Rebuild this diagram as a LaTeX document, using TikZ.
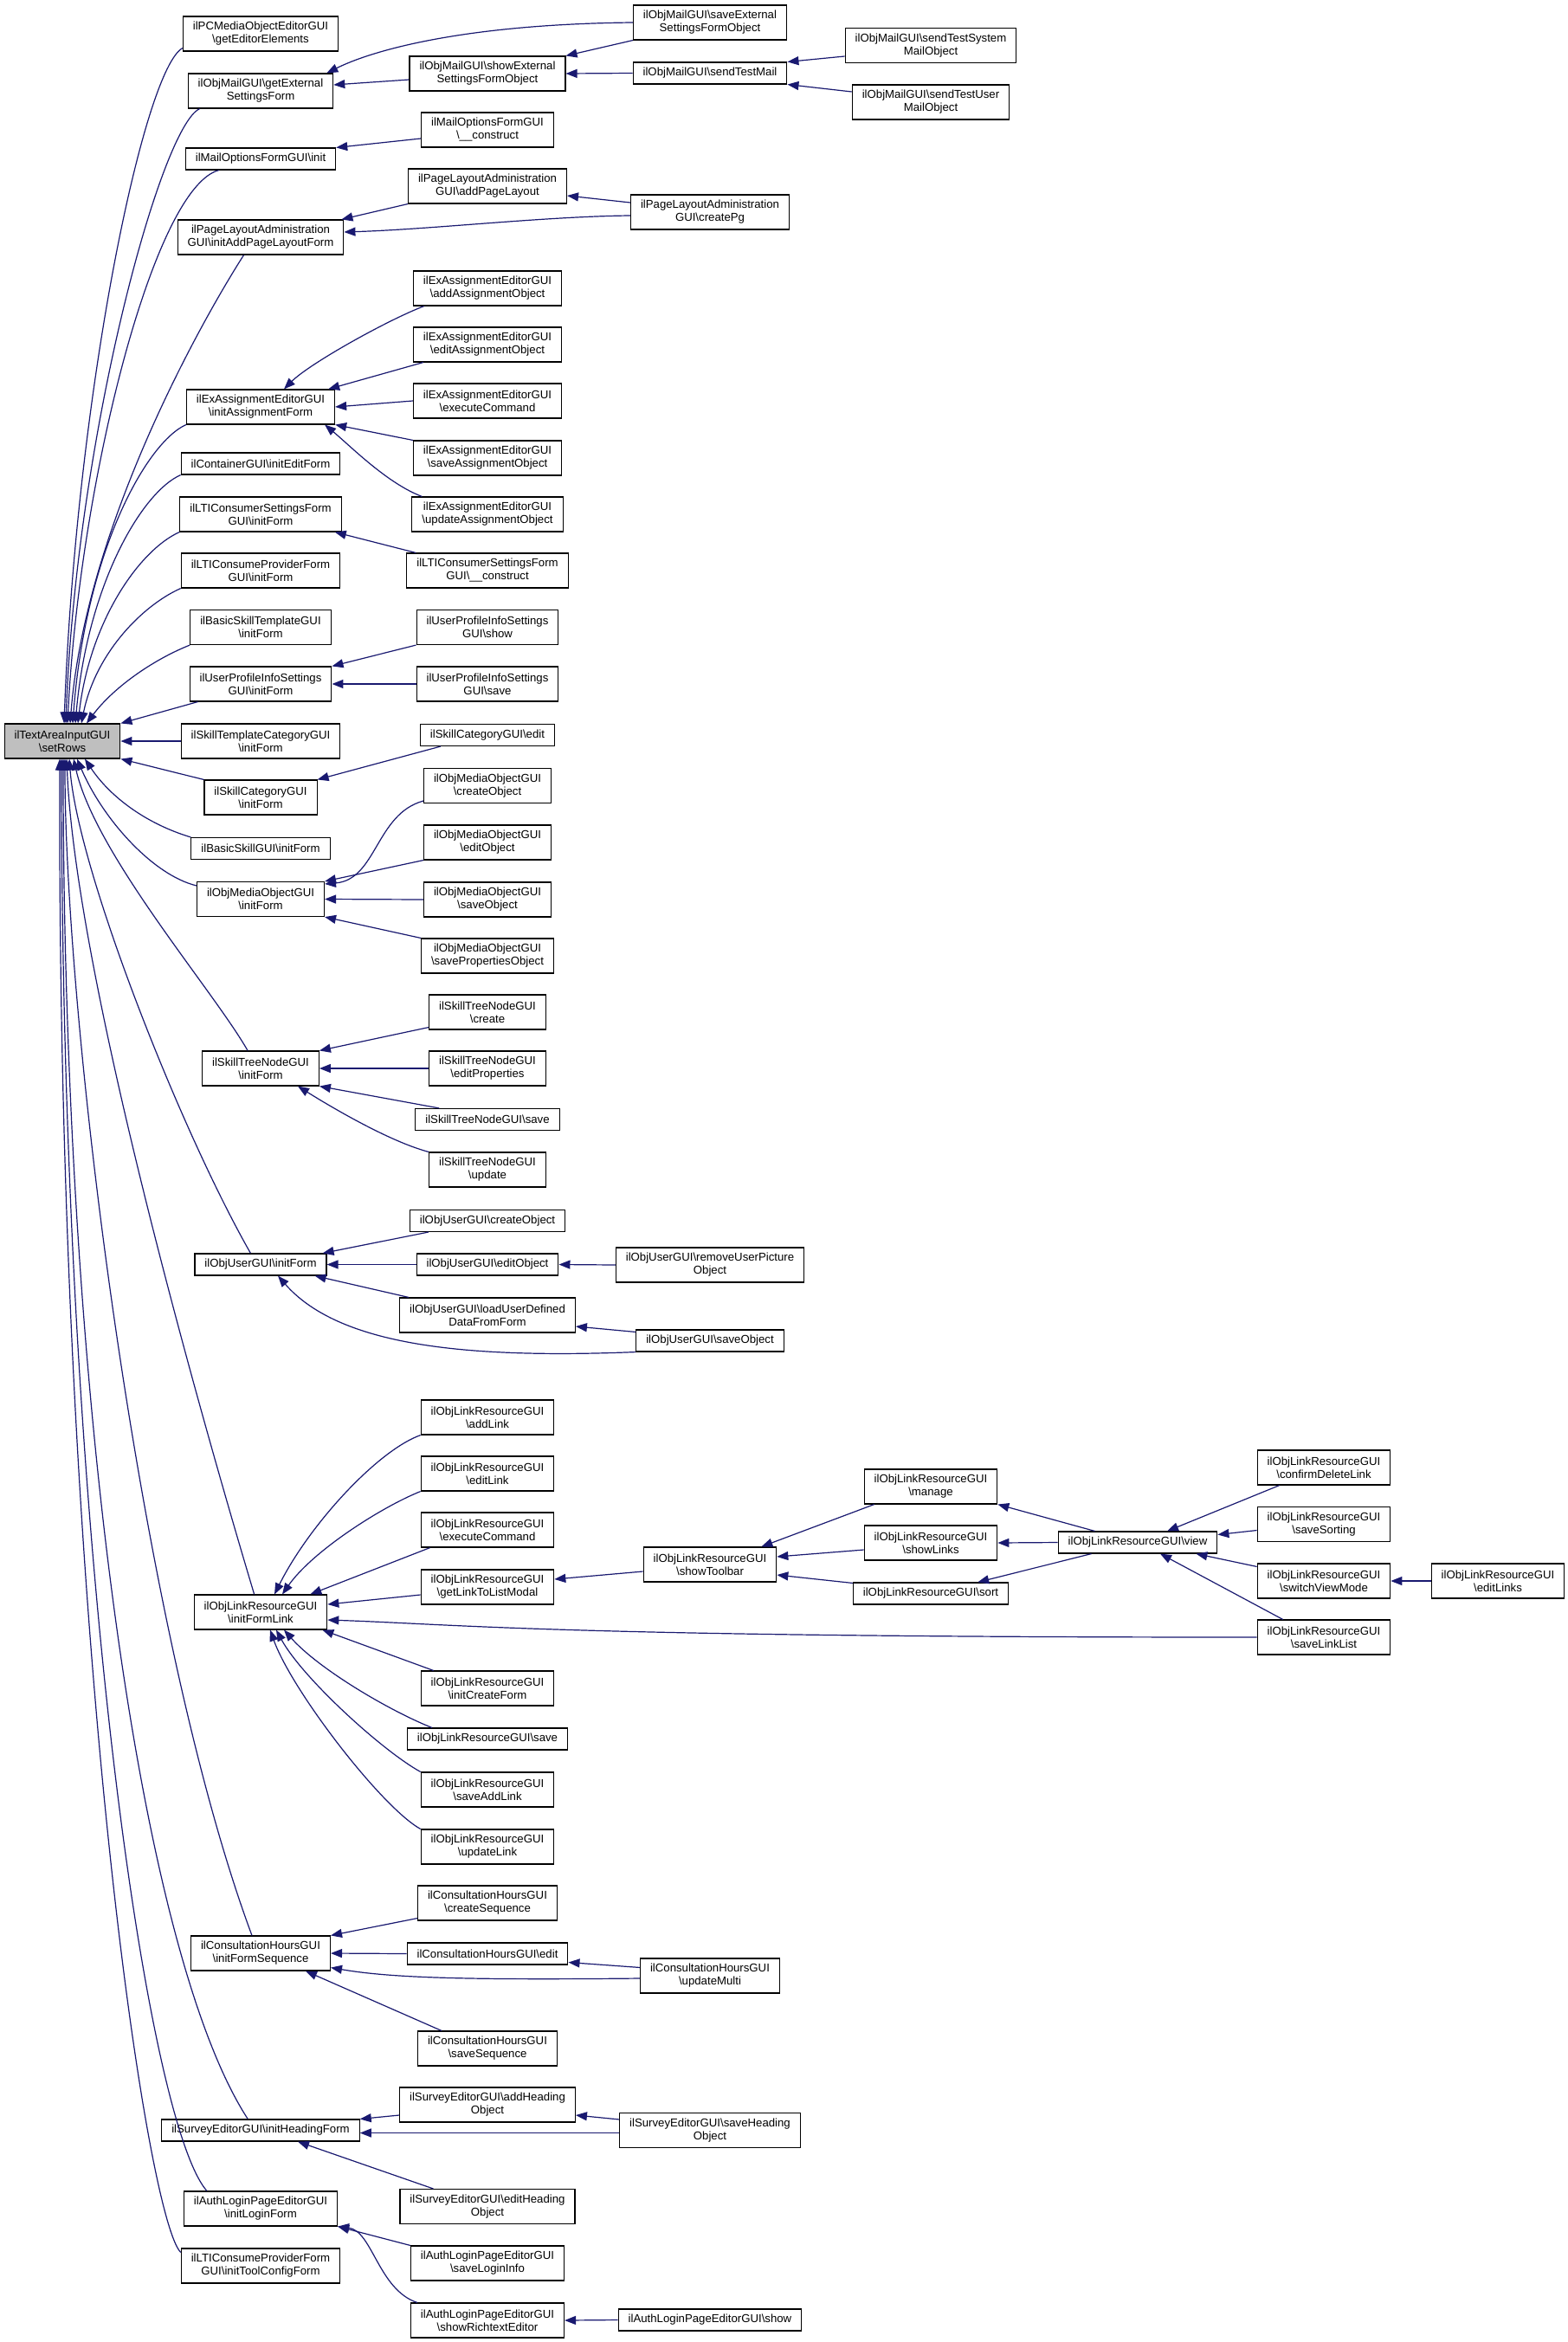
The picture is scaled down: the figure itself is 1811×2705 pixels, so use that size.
\documentclass[tikz,border=0pt]{standalone}
\usepackage{fontspec}
\setmainfont{Liberation Sans}
\usetikzlibrary{arrows.meta,calc}
\definecolor{edgeblue}{HTML}{191970}
\definecolor{rootgray}{HTML}{BFBFBF}
\newcommand{\bkx}{\textbackslash}
\tikzset{
  fn/.style={draw=black, line width=1.1pt, fill=white, font=\fontsize{13.2}{15}\selectfont,
    align=center, inner xsep=11.5pt, inner ysep=0pt, minimum height=25pt},
  fn2/.style={fn, minimum height=40pt},
  rootnode/.style={fn2, fill=rootgray},
  ce/.style={draw=edgeblue, line width=1.2pt, -{Triangle[length=13pt,width=10pt]}}
}
\begin{document}
\begin{tikzpicture}[x=1pt,y=-1pt]
\fill[white] (0,0) rectangle (1811,2705);
\useasboundingbox (0,0) rectangle (1811,2705);
% column 1
\node[rootnode] (root) at (72,856) {ilTextAreaInputGUI\\\bkx setRows};
% column 2
\node[fn2] (n1) at (301,39) {ilPCMediaObjectEditorGUI\\\bkx getEditorElements};
\node[fn2] (n2) at (301,105) {ilObjMailGUI\bkx getExternal\\SettingsForm};
\node[fn] (n3) at (301,183.5) {ilMailOptionsFormGUI\bkx init};
\node[fn2] (n4) at (301,274) {ilPageLayoutAdministration\\GUI\bkx initAddPageLayoutForm};
\node[fn2] (n5) at (301,470) {ilExAssignmentEditorGUI\\\bkx initAssignmentForm};
\node[fn] (n6) at (301,535.5) {ilContainerGUI\bkx initEditForm};
\node[fn2] (n7) at (301,594) {ilLTIConsumerSettingsForm\\GUI\bkx initForm};
\node[fn2] (n8) at (301,659) {ilLTIConsumeProviderForm\\GUI\bkx initForm};
\node[fn2] (n9) at (301,724.5) {ilBasicSkillTemplateGUI\\\bkx initForm};
\node[fn2] (n10) at (301,790) {ilUserProfileInfoSettings\\GUI\bkx initForm};
\node[fn2] (n11) at (301,856) {ilSkillTemplateCategoryGUI\\\bkx initForm};
\node[fn2] (n12) at (301,921) {ilSkillCategoryGUI\\\bkx initForm};
\node[fn] (n13) at (301,980) {ilBasicSkillGUI\bkx initForm};
\node[fn2] (n14) at (301,1038.5) {ilObjMediaObjectGUI\\\bkx initForm};
\node[fn2] (n15) at (301,1234) {ilSkillTreeNodeGUI\\\bkx initForm};
\node[fn] (n16) at (301,1460.5) {ilObjUserGUI\bkx initForm};
\node[fn2] (n17) at (301,1862) {ilObjLinkResourceGUI\\\bkx initFormLink};
\node[fn2] (n18) at (301,2256) {ilConsultationHoursGUI\\\bkx initFormSequence};
\node[fn] (n19) at (301,2460.5) {ilSurveyEditorGUI\bkx initHeadingForm};
\node[fn2] (n20) at (301,2551) {ilAuthLoginPageEditorGUI\\\bkx initLoginForm};
\node[fn2] (n21) at (301,2617) {ilLTIConsumeProviderForm\\GUI\bkx initToolConfigForm};
% column 3
\node[fn2] (m1) at (563,85) {ilObjMailGUI\bkx showExternal\\SettingsFormObject};
\node[fn2] (m2) at (563,150) {ilMailOptionsFormGUI\\\bkx\_\_construct};
\node[fn2] (m3) at (563,215) {ilPageLayoutAdministration\\GUI\bkx addPageLayout};
\node[fn2] (m4) at (563,333) {ilExAssignmentEditorGUI\\\bkx addAssignmentObject};
\node[fn2] (m5) at (563,398) {ilExAssignmentEditorGUI\\\bkx editAssignmentObject};
\node[fn2] (m6) at (563,463) {ilExAssignmentEditorGUI\\\bkx executeCommand};
\node[fn2] (m7) at (563,529) {ilExAssignmentEditorGUI\\\bkx saveAssignmentObject};
\node[fn2] (m8) at (563,594) {ilExAssignmentEditorGUI\\\bkx updateAssignmentObject};
\node[fn2] (m9) at (563,659) {ilLTIConsumerSettingsForm\\GUI\bkx\_\_construct};
\node[fn2] (m10) at (563,724.5) {ilUserProfileInfoSettings\\GUI\bkx show};
\node[fn2] (m11) at (563,790) {ilUserProfileInfoSettings\\GUI\bkx save};
\node[fn] (m12) at (563,849) {ilSkillCategoryGUI\bkx edit};
\node[fn2] (m13) at (563,907.5) {ilObjMediaObjectGUI\\\bkx createObject};
\node[fn2] (m14) at (563,973) {ilObjMediaObjectGUI\\\bkx editObject};
\node[fn2] (m15) at (563,1039) {ilObjMediaObjectGUI\\\bkx saveObject};
\node[fn2] (m16) at (563,1104) {ilObjMediaObjectGUI\\\bkx savePropertiesObject};
\node[fn2] (m17) at (563,1169) {ilSkillTreeNodeGUI\\\bkx create};
\node[fn2] (m18) at (563,1234) {ilSkillTreeNodeGUI\\\bkx editProperties};
\node[fn] (m19) at (563,1293) {ilSkillTreeNodeGUI\bkx save};
\node[fn2] (m20) at (563,1351) {ilSkillTreeNodeGUI\\\bkx update};
\node[fn] (m21) at (563,1410) {ilObjUserGUI\bkx createObject};
\node[fn] (m22) at (563,1460.5) {ilObjUserGUI\bkx editObject};
\node[fn2] (m23) at (563,1519) {ilObjUserGUI\bkx loadUserDefined\\DataFromForm};
\node[fn2] (m24) at (563,1637) {ilObjLinkResourceGUI\\\bkx addLink};
\node[fn2] (m25) at (563,1702) {ilObjLinkResourceGUI\\\bkx editLink};
\node[fn2] (m26) at (563,1767) {ilObjLinkResourceGUI\\\bkx executeCommand};
\node[fn2] (m27) at (563,1833) {ilObjLinkResourceGUI\\\bkx getLinkToListModal};
\node[fn2] (m28) at (563,1950) {ilObjLinkResourceGUI\\\bkx initCreateForm};
\node[fn] (m29) at (563,2008.5) {ilObjLinkResourceGUI\bkx save};
\node[fn2] (m30) at (563,2067) {ilObjLinkResourceGUI\\\bkx saveAddLink};
\node[fn2] (m31) at (563,2133) {ilObjLinkResourceGUI\\\bkx updateLink};
\node[fn2] (m32) at (563,2198) {ilConsultationHoursGUI\\\bkx createSequence};
\node[fn] (m33) at (563,2256.5) {ilConsultationHoursGUI\bkx edit};
\node[fn2] (m34) at (563,2366) {ilConsultationHoursGUI\\\bkx saveSequence};
\node[fn2] (m35) at (563,2431) {ilSurveyEditorGUI\bkx addHeading\\Object};
\node[fn2] (m36) at (563,2548.5) {ilSurveyEditorGUI\bkx editHeading\\Object};
\node[fn2] (m37) at (563,2614) {ilAuthLoginPageEditorGUI\\\bkx saveLoginInfo};
\node[fn2] (m38) at (563,2680) {ilAuthLoginPageEditorGUI\\\bkx showRichtextEditor};
% column 4
\node[fn2] (p1) at (820,26) {ilObjMailGUI\bkx saveExternal\\SettingsFormObject};
\node[fn] (p2) at (820,84.5) {ilObjMailGUI\bkx sendTestMail};
\node[fn2] (p3) at (820,245) {ilPageLayoutAdministration\\GUI\bkx createPg};
\node[fn2] (p4) at (820,1461) {ilObjUserGUI\bkx removeUserPicture\\Object};
\node[fn] (p5) at (820,1548.5) {ilObjUserGUI\bkx saveObject};
\node[fn2] (p6) at (820,1807) {ilObjLinkResourceGUI\\\bkx showToolbar};
\node[fn2] (p7) at (820,2282) {ilConsultationHoursGUI\\\bkx updateMulti};
\node[fn2] (p8) at (820,2460.5) {ilSurveyEditorGUI\bkx saveHeading\\Object};
\node[fn] (p9) at (820,2679.5) {ilAuthLoginPageEditorGUI\bkx show};
% column 5
\node[fn2] (q1) at (1075,52.5) {ilObjMailGUI\bkx sendTestSystem\\MailObject};
\node[fn2] (q2) at (1075,118) {ilObjMailGUI\bkx sendTestUser\\MailObject};
\node[fn2] (q3) at (1075,1717) {ilObjLinkResourceGUI\\\bkx manage};
\node[fn2] (q4) at (1075,1782) {ilObjLinkResourceGUI\\\bkx showLinks};
\node[fn] (q5) at (1075,1840.5) {ilObjLinkResourceGUI\bkx sort};
% column 6-8
\node[fn] (r1) at (1314,1781.5) {ilObjLinkResourceGUI\bkx view};
\node[fn2] (s1) at (1529,1695) {ilObjLinkResourceGUI\\\bkx confirmDeleteLink};
\node[fn2] (s2) at (1529,1760.5) {ilObjLinkResourceGUI\\\bkx saveSorting};
\node[fn2] (s3) at (1529,1826) {ilObjLinkResourceGUI\\\bkx switchViewMode};
\node[fn2] (s4) at (1529,1891) {ilObjLinkResourceGUI\\\bkx saveLinkList};
\node[fn2] (t1) at (1730,1826) {ilObjLinkResourceGUI\\\bkx editLinks};

% ---- edges into root (top group)
\draw[ce] ($(n1.south west)+(0,-4)$) .. controls +(-45,25) and +(14,-380) .. ($(root.north)+(2,0)$);
\draw[ce] ($(n2.south west)+(14,0)$) .. controls +(-45,20) and +(12,-330) .. ($(root.north)+(4,0)$);
\draw[ce] ($(n3.south west)+(39,0)$) .. controls +(-75,20) and +(14,-280) .. ($(root.north)+(6,0)$);
\draw[ce] ($(n4.south west)+(77,0)$) .. controls +(-45,70) and +(18,-230) .. ($(root.north)+(9,0)$);
\draw[ce] (n5.south west) .. controls +(-45,20) and +(15,-200) .. ($(root.north)+(12,0)$);
\draw[ce] (n6.south west) .. controls +(-45,20) and +(14,-160) .. ($(root.north)+(15,0)$);
\draw[ce] (n7.south west) .. controls +(-45,20) and +(14,-120) .. ($(root.north)+(18,0)$);
\draw[ce] (n8.south west) .. controls +(-45,20) and +(16,-80) .. ($(root.north)+(22,0)$);
\draw[ce] (n9.south west) .. controls +(-45,18) and +(30,-40) .. ($(root.north)+(28,0)$);
% right group
\draw[ce] ($(n10.south west)+(10,0)$) -- (root.north east);
\draw[ce] (n11.west) -- (root.east);
\draw[ce] (n12.north west) -- (root.south east);
% bottom group
\draw[ce] (n13.north west) .. controls +(-50,-15) and +(30,45) .. ($(root.south)+(26,0)$);
\draw[ce] ($(n14.north west)+(0,5)$) .. controls +(-50,-12) and +(30,70) .. ($(root.south)+(17,0)$);
\draw[ce] ($(n15.north west)+(53,0)$) .. controls +(-40,-70) and +(25,110) .. ($(root.south)+(13,0)$);
\draw[ce] ($(n16.north west)+(65,0)$) .. controls +(-80,-140) and +(10,130) .. ($(root.south)+(8,0)$);
\draw[ce] ($(n17.north west)+(70,0)$) .. controls +(-60,-200) and +(10,250) .. ($(root.south)+(5,0)$);
\draw[ce] ($(n18.north west)+(71,0)$) .. controls +(-130,-350) and +(0,300) .. ($(root.south)+(3,0)$);
\draw[ce] ($(n19.north west)+(100,0)$) .. controls +(-130,-200) and +(0,700) .. ($(root.south)+(1,0)$);
\draw[ce] ($(n20.north west)+(27,0)$) .. controls +(-70,-80) and +(0,900) .. ($(root.south)+(-1,0)$);
\draw[ce] ($(n21.north west)+(0,5)$) .. controls +(-40,-40) and +(-3,1000) .. ($(root.south)+(-3,0)$);

% ---- mail
\draw[ce] ($(m1.west)+(0,7)$) -- ($(n2.east)+(0,-7)$);
\draw[ce] (p1.west) .. controls +(-200,2) and +(50,-25) .. ($(n2.north east)+(-8,0)$);
\draw[ce] (p1.south west) -- (m1.north east);
\draw[ce] (p2.west) -- (m1.east);
\draw[ce] ($(q1.west)+(0,12.5)$) -- (p2.north east);
\draw[ce] ($(q2.west)+(0,-12)$) -- (p2.south east);
\draw[ce] ($(m2.west)+(0,10)$) -- (n3.north east);
% ---- page layout
\draw[ce] (m3.south west) -- ($(n4.north east)+(-3,0)$);
\draw[ce] ($(p3.west)+(0,4)$) .. controls +(-100,1) and +(100,-3) .. ($(n4.east)+(0,-6)$);
\draw[ce] ($(p3.west)+(0,-11)$) -- ($(m3.east)+(0,11)$);
% ---- assignment
\draw[ce] ($(m4.south west)+(13,0)$) .. controls +(-40,15) and +(30,-30) .. ($(n5.north)+(27,0)$);
\draw[ce] ($(m5.south west)+(12,0)$) -- ($(n5.north east)+(-8,0)$);
\draw[ce] (m6.west) -- (n5.east);
\draw[ce] (m7.north west) -- (n5.south east);
\draw[ce] ($(m8.north west)+(12,0)$) .. controls +(-40,-15) and +(30,25) .. ($(n5.south east)+(-12,0)$);
% ---- LTI, profile, skill category
\draw[ce] ($(m9.north west)+(11,0)$) -- ($(n7.south east)+(-8,0)$);
\draw[ce] (m10.south west) -- (n10.north east);
\draw[ce] (m11.west) -- (n10.east);
\draw[ce] ($(m12.south west)+(24,0)$) -- (n12.north east);
% ---- media object
\draw[ce] ($(m13.south west)+(0,-3)$) .. controls +(-55,15) and +(60,-5) .. ($(n14.north east)+(0,3)$);
\draw[ce] (m14.south west) -- (n14.north east);
\draw[ce] (m15.west) -- (n14.east);
\draw[ce] (m16.north west) -- (n14.south east);
% ---- skill tree node
\draw[ce] ($(m17.south west)+(0,-3)$) -- (n15.north east);
\draw[ce] (m18.west) -- (n15.east);
\draw[ce] ($(m19.north west)+(28,0)$) -- (n15.south east);
\draw[ce] (m20.north west) .. controls +(-45,-12) and +(40,25) .. ($(n15.south)+(43,0)$);
% ---- obj user
\draw[ce] ($(m21.south west)+(22,0)$) -- ($(n16.north east)+(-5,0)$);
\draw[ce] (m22.west) -- (n16.east);
\draw[ce] ($(m23.north west)+(11,0)$) -- ($(n16.south east)+(-14,0)$);
\draw[ce] (p5.south west) .. controls +(-200,8) and +(70,80) .. ($(n16.south)+(20,0)$);
\draw[ce] (p4.west) -- (m22.east);
\draw[ce] ($(p5.north west)+(0,3)$) -- ($(m23.east)+(0,13)$);
% ---- link resource
\draw[ce] (m24.south west) .. controls +(-50,18) and +(40,-80) .. ($(n17.north)+(16,0)$);
\draw[ce] (m25.south west) .. controls +(-45,18) and +(35,-50) .. ($(n17.north)+(25,0)$);
\draw[ce] ($(m26.south west)+(11,0)$) -- ($(n17.north east)+(-20,0)$);
\draw[ce] ($(m27.west)+(0,9)$) -- ($(n17.east)+(0,-9)$);
\draw[ce] (s4.west) .. controls +(-800,0) and +(150,5) .. ($(n17.east)+(0,9)$);
\draw[ce] ($(m28.north west)+(15,0)$) -- ($(n17.south east)+(-6,0)$);
\draw[ce] ($(m29.north west)+(29,0)$) .. controls +(-50,-20) and +(40,45) .. ($(n17.south)+(27,0)$);
\draw[ce] (m30.north west) .. controls +(-45,-25) and +(30,55) .. ($(n17.south)+(18,0)$);
\draw[ce] (m31.north west) .. controls +(-45,-25) and +(25,70) .. ($(n17.south)+(11,0)$);
\draw[ce] ($(p6.west)+(0,8)$) -- ($(m27.east)+(0,-9)$);
\draw[ce] ($(q3.south west)+(12,0)$) -- ($(p6.north east)+(-18,0)$);
\draw[ce] ($(q4.west)+(0,8)$) -- ($(p6.east)+(0,-9)$);
\draw[ce] ($(q5.north west)+(0,1)$) -- ($(p6.east)+(0,12)$);
\draw[ce] ($(r1.north west)+(43,0)$) -- (q3.south east);
\draw[ce] (r1.west) -- (q4.east);
\draw[ce] ($(r1.south west)+(39,0)$) -- ($(q5.north east)+(-36,0)$);
\draw[ce] ($(s1.south west)+(26,0)$) -- ($(r1.north)+(34,0)$);
\draw[ce] ($(s2.west)+(0,7)$) -- ($(r1.east)+(0,-9)$);
\draw[ce] ($(s3.north west)+(0,4)$) -- ($(r1.south east)+(-25,0)$);
\draw[ce] ($(s4.north west)+(30,0)$) -- ($(r1.south)+(26,0)$);
\draw[ce] (t1.west) -- (s3.east);
% ---- consultation hours
\draw[ce] ($(m32.south west)+(0,-3)$) -- (n18.north east);
\draw[ce] (m33.west) -- (n18.east);
\draw[ce] ($(p7.west)+(0,3)$) .. controls +(-200,2) and +(70,12) .. ($(n18.south east)+(0,-4)$);
\draw[ce] ($(p7.north west)+(0,11)$) -- ($(m33.east)+(0,10)$);
\draw[ce] ($(m34.north west)+(28,0)$) -- ($(n18.south)+(52,0)$);
% ---- survey
\draw[ce] ($(m35.west)+(0,12)$) -- (n19.north east);
\draw[ce] ($(p8.west)+(0,3)$) -- ($(n19.east)+(0,3)$);
\draw[ce] ($(p8.north west)+(0,8)$) -- ($(m35.east)+(0,12)$);
\draw[ce] ($(m36.north west)+(39,0)$) -- ($(n19.south)+(43,0)$);
% ---- auth login
\draw[ce] (m37.north west) -- (n20.south east);
\draw[ce] ($(m38.north west)+(8,0)$) .. controls +(-45,-15) and +(40,5) .. (n20.south east);
\draw[ce] (p9.west) -- (m38.east);
\end{tikzpicture}
\end{document}
